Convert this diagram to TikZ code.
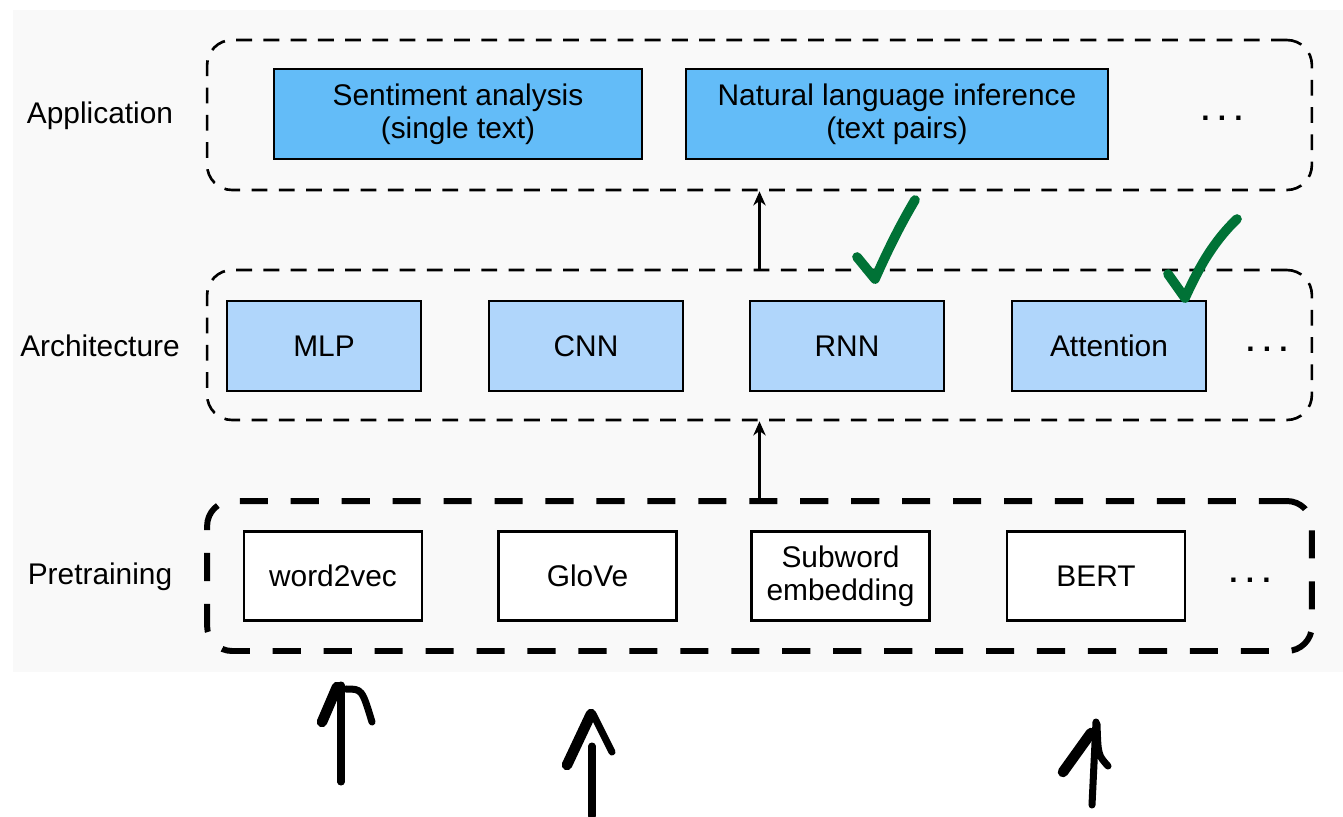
\documentclass[tikz,border=0pt]{standalone}
\usepackage{fontspec}
\setmainfont{Liberation Sans}
\usetikzlibrary{arrows.meta,positioning,calc}
\definecolor{pale}{HTML}{F9F9F9}
\definecolor{appblue}{HTML}{63BCF8}
\definecolor{archblue}{HTML}{B0D6FB}
\definecolor{check}{HTML}{007236}

\begin{document}
\begin{tikzpicture}[x=0.02cm,y=-0.02cm,>={Stealth[length=8pt,width=7pt,inset=2.5pt]},
 font=\fontsize{17}{19}\selectfont,
 layer/.style={draw,rounded corners=0.5cm,minimum width=22.1cm,minimum height=3cm,
  line width=1.5pt,dash pattern=on 9pt off 6.5pt},
 thicklayer/.style={layer,line width=3.4pt,dash pattern=on 16pt off 13pt},
 box/.style={draw,line width=1.5pt,minimum height=1.8cm,align=center},
 appbox/.style={box,fill=appblue},
 archbox/.style={box,fill=archblue,minimum width=3.88cm},
 prebox/.style={box,fill=white,minimum width=3.56cm,minimum height=1.78cm},
 dots/.style={anchor=base,font=\fontsize{17}{19}\selectfont\bfseries},
 tick/.style={check,line width=5.5pt,line cap=round,line join=round},
 hand/.style={line width=4pt,line cap=round,line join=round}]
\useasboundingbox (0,0) rectangle (1343,816);
\fill[pale] (13,10) rectangle (1343,672);
% layers
\node[layer] (app) at (759.5,115) {};
\node[layer] (arch) at (759.5,345) {};
\node[thicklayer] (pre) at (759.5,576) {};
\node (lapp) at (100,116) {Application};
\node (larch) at (100,346) {Architecture};
\node (lpre) at (100,577) {Pretraining};
% application
\node[appbox,minimum width=7.36cm] (senti) at (458,114) {\raisebox{-2pt}{Sentiment analysis}\\\raisebox{-2pt}{(single text)}};
\node[appbox,minimum width=8.44cm] (nli) at (897,114) {\raisebox{-2pt}{Natural language inference}\\\raisebox{-2pt}{(text pairs)}};
\node[dots] (appdots) at (1222,120) {.\ .\ .};
% architecture
\node[archbox] (mlp) at (324,346) {MLP};
\node[archbox] (cnn) at (586,346) {CNN};
\node[archbox] (rnn) at (847,346) {RNN};
\node[archbox] (att) at (1109,346) {Attention};
\node[dots] (archdots) at (1267,351) {.\ .\ .};
% pretraining
\node[prebox] (w2v) at (333,576) {word2vec};
\node[prebox] (glove) at (587.5,576) {GloVe};
\node[prebox] (sub) at (840.5,576) {Subword\\embedding};
\node[prebox] (bert) at (1096,576) {BERT};
\node[dots] (predots) at (1250,582) {.\ .\ .};
% flow
\draw[->,line width=1.5pt] (pre.north) -- (arch.south);
\draw[->,line width=1.5pt] (arch.north) -- (app.south);
% ticks
\draw[tick] (857,257) -- (875,279) .. controls (890,245) and (902,222) .. (915,200);
\draw[tick] (1168,274) -- (1185,298) .. controls (1200,265) and (1215,240) .. (1237,219);
% hand arrows
\draw[hand] (341,782) -- (341,685);
\draw[hand,line width=6pt] (322,722) -- (337,687);
\draw[hand] (346,689) .. controls (362,689) .. (372,722);
\draw[hand] (592,816) -- (592,746);
\draw[hand,line width=6pt] (567,765) -- (591,714);
\draw[hand] (593,714) -- (612,752);
\draw[hand] (1092,805) -- (1096,722);
\draw[hand,line width=6pt] (1063,772) -- (1091,733);
\draw[hand] (1097,724) .. controls (1098,755) .. (1108,766);
\end{tikzpicture}
\end{document}
